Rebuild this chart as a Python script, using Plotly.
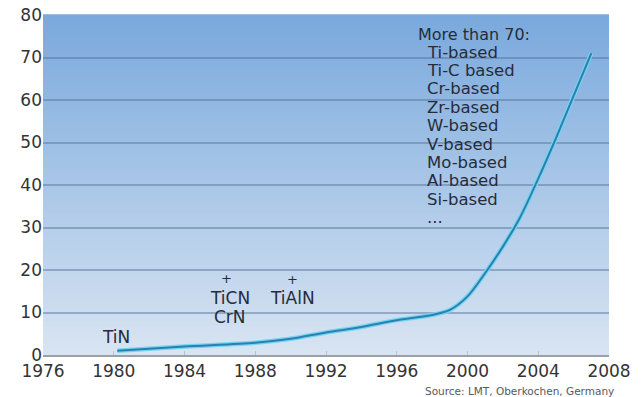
import plotly.graph_objects as go

# Number of PVD coating systems over time
years = [1980.2, 1984, 1988, 1990, 1992, 1994, 1996, 1998, 1999, 2000,
         2001, 2002, 2003, 2004, 2005, 2006, 2007]
counts = [1.0, 2.0, 2.9, 3.8, 5.3, 6.6, 8.2, 9.4, 10.6, 13.8,
          19.3, 25.5, 32.6, 41.5, 51.0, 61.0, 71.0]

x_ticks = [1976, 1980, 1984, 1988, 1992, 1996, 2000, 2004, 2008]
y_ticks = [0, 10, 20, 30, 40, 50, 60, 70, 80]

# Milestone coatings
milestone_labels = ["TiN", "TiCN", "CrN", "TiAlN"]
milestone_x = [1980.1, 1986.6, 1986.6, 1990.1]
milestone_y = [4.2, 13.4, 9.0, 13.4]
plus_x = [1986.4, 1990.1]
plus_y = [18.1, 17.7]

list_title = "More than 70:"
coating_families = ["Ti-based", "Ti-C based", "Cr-based", "Zr-based", "W-based",
                    "V-based", "Mo-based", "Al-based", "Si-based", "..."]

FONT = "DejaVu Sans"
TEXT = "#262c3a"

fig = go.Figure()

# soft glow under the curve
fig.add_trace(go.Scatter(x=years, y=counts, mode="lines",
                         line=dict(color="#74d4ee", width=4.5, shape="spline", smoothing=0.8),
                         hoverinfo="skip", showlegend=False))
fig.add_trace(go.Scatter(x=years, y=counts, mode="lines",
                         line=dict(color="#2a80b2", width=2, shape="spline", smoothing=0.8),
                         showlegend=False))

# vertical gradient background of the plot area
top = (122, 169, 221)
bottom = (216, 228, 242)
n_bands = 60
shapes = []
for i in range(n_bands):
    t = i / (n_bands - 1)
    c = tuple(round(bottom[k] + (top[k] - bottom[k]) * t) for k in range(3))
    shapes.append(dict(type="rect", xref="x domain", yref="y domain",
                       x0=0, x1=1, y0=i / n_bands, y1=(i + 1) / n_bands + 0.002,
                       fillcolor="rgb(%d,%d,%d)" % c, line=dict(width=0), layer="below"))

annotations = []
for lbl, xv, yv in zip(milestone_labels, milestone_x, milestone_y):
    annotations.append(dict(x=xv, y=yv, text=lbl, showarrow=False,
                            font=dict(family=FONT, size=17, color=TEXT)))
for xv, yv in zip(plus_x, plus_y):
    annotations.append(dict(x=xv, y=yv, text="+", showarrow=False,
                            font=dict(family=FONT, size=13, color=TEXT)))

annotations.append(dict(x=1997.1, y=75.5, text=list_title, showarrow=False,
                        xanchor="left", font=dict(family=FONT, size=16, color=TEXT)))
for i, name in enumerate(coating_families):
    annotations.append(dict(x=1997.6, y=75.5, yshift=-18 - 18.4 * i, text=name,
                            showarrow=False, xanchor="left",
                            font=dict(family=FONT, size=16.5, color=TEXT)))

annotations.append(dict(xref="paper", yref="paper", x=1.012, y=-0.105,
                        text="Source: LMT, Oberkochen, Germany", showarrow=False,
                        xanchor="right", yanchor="middle",
                        font=dict(family=FONT, size=10.5, color="#555a60")))

fig.update_layout(
    width=644, height=397,
    margin=dict(l=43, r=35, t=15, b=42),
    paper_bgcolor="white",
    plot_bgcolor="rgb(216,228,242)",
    shapes=shapes,
    annotations=annotations,
    xaxis=dict(range=[1976, 2008], tickvals=x_ticks, ticktext=[str(v) for v in x_ticks],
               automargin=False, ticklabelstandoff=0,
               showgrid=False, zeroline=False, showline=True, linecolor="#9aa0a8",
               linewidth=1.5, ticks="inside", ticklen=4, tickcolor="#b8c4d2",
               tickfont=dict(family=FONT, size=17, color="#333333")),
    yaxis=dict(range=[0, 80], tickvals=y_ticks, showgrid=True, automargin=False,
               gridcolor="rgba(80,110,150,0.45)", gridwidth=1.5, zeroline=False,
               showline=False, ticks="", ticklen=2,
               tickfont=dict(family=FONT, size=17, color="#333333")),
)

fig.write_html("out.html")
